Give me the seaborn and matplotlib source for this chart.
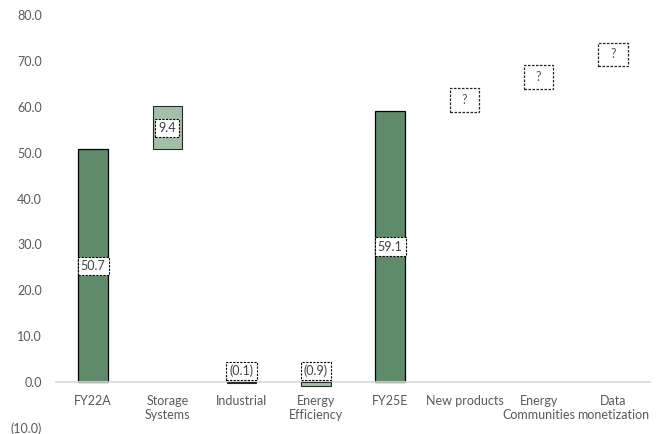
import matplotlib
matplotlib.use("Agg")
import matplotlib.pyplot as plt
from matplotlib.ticker import FuncFormatter, MultipleLocator
from matplotlib.patches import Rectangle
import seaborn as sns
import pandas as pd
import numpy as np

categories = ["FY22A", "Storage\nSystems", "Industrial", "Energy\nEfficiency",
              "FY25E", "New products", "Energy\nCommunities", "Data\nmonetization"]
heights = [50.7, 9.4, -0.1, -0.9, 59.1, np.nan, np.nan, np.nan]
bottoms = [0.0, 50.7, 0.0, 0.0, 0.0, np.nan, np.nan, np.nan]
kinds = ["total", "delta", "delta", "delta", "total", "none", "none", "none"]
labels = ["50.7", "9.4", "(0.1)", "(0.9)", "59.1", "?", "?", "?"]
placeholder_y = [np.nan, np.nan, np.nan, np.nan, np.nan, 61.5, 66.5, 71.4]

dark = "#5f8b6b"
light = "#a3bfa8"
txt = "#595959"
BW = 0.4

sns.set_theme(style="white")
plt.rcParams["font.family"] = ["Lato", "DejaVu Sans"]

fig = plt.figure(figsize=(6.58, 4.34), dpi=100)
ax = fig.add_axes([56/658, 1-428/434, (650-56)/658, (428-15)/434])

df = pd.DataFrame({"cat": categories, "h": heights, "b": bottoms, "kind": kinds})

# totals via seaborn (grounded at zero)
tot = df.copy()
tot.loc[tot["kind"] != "total", "h"] = np.nan
sns.barplot(data=tot, x="cat", y="h", order=categories, color=dark, width=BW,
            edgecolor="black", linewidth=0.9, ax=ax, saturation=1)

# deltas with bottoms
for i, (h, b, k) in enumerate(zip(heights, bottoms, kinds)):
    if k == "delta":
        ax.bar(i, h, bottom=b, width=BW, color=light, edgecolor="#2a2a2a",
               linewidth=0.8, zorder=3)

box = dict(boxstyle="square,pad=0.25", fc="white", ec="black", ls=(0, (2, 1.2)), lw=0.8)
for i, (h, b, k, lab, py) in enumerate(zip(heights, bottoms, kinds, labels, placeholder_y)):
    if k == "none":
        ax.add_patch(Rectangle((i - BW / 2, py - 2.6), BW, 5.2, fc="white",
                               ec="#222222", ls=(0, (2, 1.2)), lw=0.9, zorder=4))
        ax.text(i, py, lab, ha="center", va="center", fontsize=9, color=txt, zorder=5)
    elif h < 0:
        ax.annotate(lab, xy=(i, 0), xytext=(0, 8), textcoords="offset points",
                    ha="center", va="center", fontsize=9, color="#404040",
                    bbox=box, zorder=5)
    else:
        ax.text(i, b + h / 2, lab, ha="center", va="center", fontsize=9,
                color="#404040", bbox=box, zorder=5)

ax.set_ylim(-10, 80)
ax.set_xlim(-0.5, len(categories) - 0.5)
ax.yaxis.set_major_locator(MultipleLocator(10))
ax.yaxis.set_major_formatter(FuncFormatter(
    lambda v, p: f"({abs(v):.1f})" if v < 0 else f"{v:.1f}"))
ax.set_xlabel("")
ax.set_ylabel("")
for s in ["left", "right", "top"]:
    ax.spines[s].set_visible(False)
ax.spines["bottom"].set_position(("data", 0))
ax.spines["bottom"].set_color("#d9d9d9")
ax.spines["bottom"].set_linewidth(1.2)
ax.spines["bottom"].set_zorder(1)
ax.tick_params(axis="x", length=0, pad=9, labelsize=9, labelcolor=txt)
ax.tick_params(axis="y", length=0, pad=10, labelsize=9, labelcolor=txt)
ax.grid(False)

fig.savefig("out.png", dpi=100)
